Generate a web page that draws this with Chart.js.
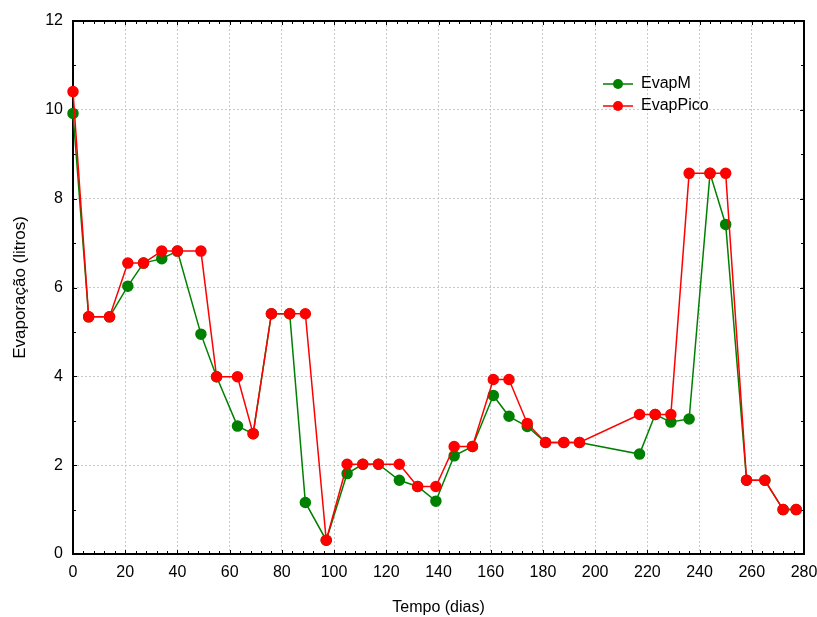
<!DOCTYPE html>
<html>
<head>
<meta charset="utf-8">
<script src="https://cdn.jsdelivr.net/npm/chart.js@4/dist/chart.umd.min.js"></script>
<style>
  html, body { margin: 0; padding: 0; background: #fff; }
  #wrap { width: 817px; height: 617px; }
</style>
</head>
<body>
<div id="wrap"><canvas id="chart" width="817" height="617"></canvas></div>
<script>
// tempo (dias)
const days = [0, 6, 14, 21, 27, 34, 40, 49, 55, 63, 69, 76, 83, 89, 97, 105, 111, 117, 125, 132,
  139, 146, 153, 161, 167, 174, 181, 188, 194, 217, 223, 229, 236, 244, 250, 258, 265, 272, 277];

const evapM = [9.92, 5.34, 5.34, 6.03, 6.55, 6.65, 6.82, 4.95, 3.99, 2.88, 2.71, 5.41, 5.41, 1.16, 0.31,
  1.81, 2.02, 2.02, 1.66, 1.52, 1.19, 2.21, 2.42, 3.57, 3.10, 2.87, 2.51, 2.51, 2.51, 2.25, 3.14,
  2.97, 3.04, 8.57, 7.42, 1.66, 1.66, 1.0, 1.0];

const evapPico = [10.41, 5.34, 5.34, 6.55, 6.55, 6.82, 6.82, 6.82, 3.99, 3.99, 2.71, 5.41, 5.41, 5.41, 0.31,
  2.02, 2.02, 2.02, 2.02, 1.52, 1.52, 2.42, 2.42, 3.93, 3.93, 2.94, 2.51, 2.51, 2.51, 3.14, 3.14,
  3.14, 8.57, 8.57, 8.57, 1.66, 1.66, 1.0, 1.0];

const xTicks = [0, 20, 40, 60, 80, 100, 120, 140, 160, 180, 200, 220, 240, 260, 280];
const yTicks = [0, 2, 4, 6, 8, 10, 12];

const FONT = 'Liberation Sans, Arial, sans-serif';

// frame with inward ticks on all 4 sides (major + minor)
const framePlugin = {
  id: 'frame',
  beforeDatasetsDraw(chart) {
    const { ctx, chartArea: a, scales: { x, y } } = chart;
    ctx.save();
    ctx.strokeStyle = '#000';
    ctx.lineWidth = 1;
    ctx.beginPath();
    for (let d = 0; d <= 280; d += 4) {
      const px = Math.round(x.getPixelForValue(d)) + 0.5;
      const len = d % 20 === 0 ? 4 : 3;
      ctx.moveTo(px, a.bottom); ctx.lineTo(px, a.bottom - len);
      ctx.moveTo(px, a.top); ctx.lineTo(px, a.top + len);
    }
    for (let v = 0; v <= 12; v += 1) {
      const py = Math.round(y.getPixelForValue(v)) + 0.5;
      const len = v % 2 === 0 ? 4 : 3;
      ctx.moveTo(a.left, py); ctx.lineTo(a.left + len, py);
      ctx.moveTo(a.right, py); ctx.lineTo(a.right - len, py);
    }
    ctx.stroke();
    ctx.lineWidth = 2;
    ctx.strokeRect(a.left, a.top, a.right - a.left, a.bottom - a.top);
    ctx.restore();
  }
};

// legend drawn inside the plot area
const legendPlugin = {
  id: 'inLegend',
  afterDraw(chart) {
    const { ctx } = chart;
    const items = [chart.data.datasets[0], chart.data.datasets[1]];
    ctx.save();
    items.forEach((ds, i) => {
      const y0 = 84 + i * 22;
      ctx.strokeStyle = ds.borderColor;
      ctx.lineWidth = 1.5;
      ctx.beginPath();
      ctx.moveTo(603, y0); ctx.lineTo(633, y0);
      ctx.stroke();
      ctx.fillStyle = ds.pointBackgroundColor;
      ctx.beginPath();
      ctx.arc(618, y0, 5, 0, Math.PI * 2);
      ctx.fill();
      ctx.fillStyle = '#000';
      ctx.font = '16px ' + FONT;
      ctx.textBaseline = 'middle';
      ctx.fillText(ds.label, 641, y0);
    });
    ctx.restore();
  }
};

const gridStyle = {
  color: '#c8c8c8',
  lineWidth: 1,
  drawTicks: false,
};

new Chart(document.getElementById('chart'), {
  type: 'line',
  data: {
    datasets: [
      {
        label: 'EvapM',
        data: days.map((d, i) => ({ x: d, y: evapM[i] })),
        borderColor: '#008000',
        backgroundColor: '#008000',
        pointBackgroundColor: '#008000',
        pointBorderColor: '#008000',
        borderWidth: 1.5,
        pointRadius: 5,
        tension: 0,
        clip: false,
        order: 1
      },
      {
        label: 'EvapPico',
        data: days.map((d, i) => ({ x: d, y: evapPico[i] })),
        borderColor: '#ff0000',
        backgroundColor: '#ff0000',
        pointBackgroundColor: '#ff0000',
        pointBorderColor: '#ff0000',
        borderWidth: 1.5,
        pointRadius: 5,
        tension: 0,
        clip: false,
        order: 0
      }
    ]
  },
  options: {
    responsive: false,
    animation: false,
    events: [],
    layout: { padding: { top: 21, right: 13, left: 0, bottom: 0 } },
    plugins: { legend: { display: false }, tooltip: { enabled: false } },
    scales: {
      x: {
        type: 'linear',
        min: 0,
        max: 280,
        afterBuildTicks: (s) => { s.ticks = xTicks.map(v => ({ value: v })); },
        afterFit: (s) => { s.height = 63; s.paddingLeft = 0; s.paddingRight = 0; },
        grid: { ...gridStyle },
        border: { display: false, dash: [2, 2] },
        ticks: { color: '#000', font: { family: FONT, size: 16 }, padding: 9, maxRotation: 0 },
        title: { display: true, text: 'Tempo (dias)', color: '#000', font: { family: FONT, size: 16 }, padding: { top: 0, bottom: 0 } }
      },
      y: {
        min: 0,
        max: 12,
        afterBuildTicks: (s) => { s.ticks = yTicks.map(v => ({ value: v })); },
        afterFit: (s) => { s.width = 73; s.paddingTop = 0; s.paddingBottom = 0; },
        grid: { ...gridStyle },
        border: { display: false, dash: [2, 2] },
        ticks: { color: '#000', font: { family: FONT, size: 16 }, padding: 10 },
        title: { display: true, text: 'Evaporação (litros)', color: '#000', font: { family: FONT, size: 17 }, padding: { top: 10, bottom: 0 } }
      }
    }
  },
  plugins: [framePlugin, legendPlugin]
});
</script>
</body>
</html>
